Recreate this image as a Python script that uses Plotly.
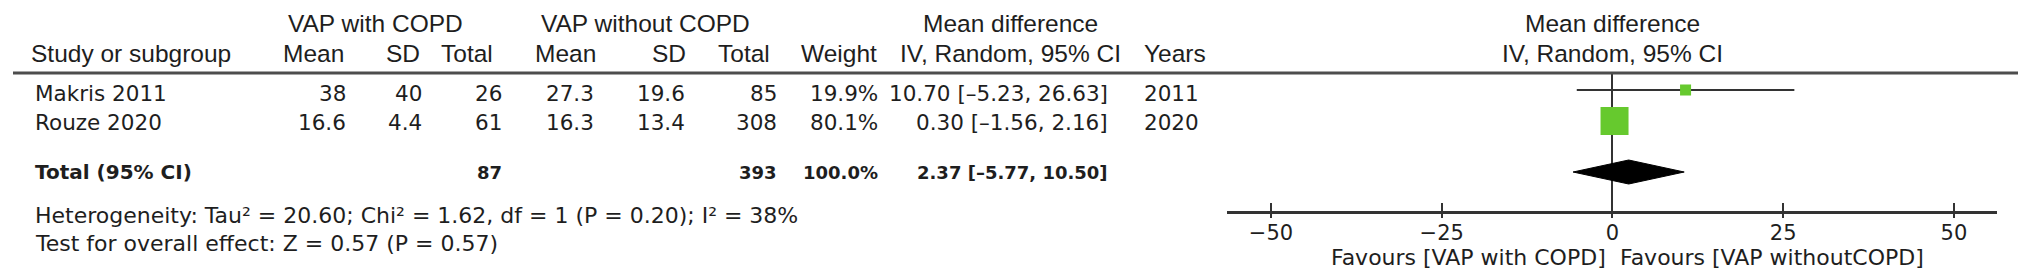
import plotly.graph_objects as go

# ---------------- data ----------------
studies = ["Makris 2011", "Rouze 2020"]
mean_copd = [38, 16.6]
sd_copd = [40, 4.4]
n_copd = [26, 61]
mean_nocopd = [27.3, 16.3]
sd_nocopd = [19.6, 13.4]
n_nocopd = [85, 308]
weights = [19.9, 80.1]
md = [10.70, 0.30]
ci_lo = [-5.23, -1.56]
ci_hi = [26.63, 2.16]
years = ["2011", "2020"]

total_label = "Total (95% CI)"
total_n_copd = 87
total_n_nocopd = 393
total_weight = 100.0
total_md = 2.37
total_lo = -5.77
total_hi = 10.50

heterogeneity = "Heterogeneity: Tau² = 20.60; Chi² = 1.62, df = 1 (P = 0.20); I² = 38%"
overall_effect = "Test for overall effect: Z = 0.57 (P = 0.57)"

group1 = "VAP with COPD"
group2 = "VAP without COPD"
col_headers = ["Mean", "SD", "Total", "Mean", "SD", "Total", "Weight"]
md_header = ["Mean difference", "IV, Random, 95% CI"]
x_ticks = [-50, -25, 0, 25, 50]
favours_left = "Favours [VAP with COPD]"
favours_right = "Favours [VAP withoutCOPD]"

# ---------------- layout (pixels) ----------------
W, H = 2032, 280
HEAD_FONT = "Liberation Sans, Arial, sans-serif"
BODY_FONT = "DejaVu Sans, Verdana, sans-serif"
TXT = "#1e1e1e"
GREEN = "#66c92e"
HS = 24.5   # header font size
BS = 21.5   # body font size
BB = 20     # bold total label size
BN = 18     # bold total numbers size

head1_y, head2_y = 23, 54
row_y = [90, 121]          # mark rows
row_text_y = [94, 122]     # text rows
total_y = 172
het_y, test_y = 215, 243
fav_y = 257
study_x = 33
data_right = [348, 424, 504, 596, 687, 779, 880]
head_right = [346, 422, 495, 598, 688, 772, 879]
ci_right = 1110
ci_center = 1010
years_left = 1142

plot_left, plot_right = 1227, 1997
axis_y, top_line_y = 211, 73
x_range = [-56.44, 56.30]


def px(x):
    return x / W


def py(y):
    return 1 - y / H


def en(v):
    return f"{v:.2f}".replace("-", "–")


ann = []


def txt(x, y, s, anchor="left", font=BODY_FONT, size=BS, bold=False):
    if bold:
        s = f"<b>{s}</b>"
    ann.append(dict(x=px(x), y=py(y), xref="paper", yref="paper", text=s,
                    showarrow=False, xanchor=anchor, yanchor="middle",
                    font=dict(family=font, size=size, color=TXT)))


# headers
txt(375, head1_y, group1, "center", HEAD_FONT, HS)
txt(645, head1_y, group2, "center", HEAD_FONT, HS)
txt(ci_center, head1_y, md_header[0], "center", HEAD_FONT, HS)
txt(study_x - 4, head2_y, "Study or subgroup", "left", HEAD_FONT, HS)
for xr, h in zip(head_right, col_headers):
    txt(xr, head2_y, h, "right", HEAD_FONT, HS)
txt(ci_center, head2_y, md_header[1], "center", HEAD_FONT, HS)
txt(years_left, head2_y, "Years", "left", HEAD_FONT, HS)

zero_px = plot_left + (0 - x_range[0]) / (x_range[1] - x_range[0]) * (plot_right - plot_left)
txt(zero_px, head1_y, md_header[0], "center", HEAD_FONT, HS)
txt(zero_px, head2_y, md_header[1], "center", HEAD_FONT, HS)

# study rows
for i, s in enumerate(studies):
    y = row_text_y[i]
    txt(study_x, y, s)
    vals = [f"{mean_copd[i]:g}", f"{sd_copd[i]:g}", f"{n_copd[i]}",
            f"{mean_nocopd[i]:g}", f"{sd_nocopd[i]:g}", f"{n_nocopd[i]}",
            f"{weights[i]:.1f}%"]
    for xr, v in zip(data_right, vals):
        txt(xr, y, v, "right")
    txt(ci_right, y, f"{md[i]:.2f} [{en(ci_lo[i])}, {en(ci_hi[i])}]", "right")
    txt(years_left, y, years[i])

# total row
txt(study_x, total_y, total_label, size=BB, bold=True)
txt(data_right[2], total_y, f"{total_n_copd}", "right", size=BN, bold=True)
txt(data_right[5], total_y, f"{total_n_nocopd}", "right", size=BN, bold=True)
txt(data_right[6], total_y, f"{total_weight:.1f}%", "right", size=BN, bold=True)
txt(ci_right, total_y, f"{total_md:.2f} [{en(total_lo)}, {en(total_hi)}]", "right",
    size=BN, bold=True)
txt(study_x, het_y, heterogeneity, size=22)
txt(study_x, test_y, overall_effect, size=22)

# favours labels
txt(zero_px - 4, fav_y, favours_left, "right", BODY_FONT, 22)
txt(zero_px + 6, fav_y, favours_right, "left", BODY_FONT, 22)

fig = go.Figure()

# CI lines
for i in range(len(studies)):
    fig.add_trace(go.Scatter(x=[ci_lo[i], ci_hi[i]], y=[row_y[i], row_y[i]],
                             mode="lines", line=dict(color="#333333", width=2),
                             hoverinfo="skip", showlegend=False))
# squares (weight-scaled)
sizes = [28 * (w / max(weights)) ** 0.67 for w in weights]
fig.add_trace(go.Scatter(x=md, y=row_y, mode="markers",
                         marker=dict(symbol="square", size=sizes, color=GREEN,
                                     opacity=1, line=dict(width=0)),
                         showlegend=False))
# diamond
dh = 12
fig.add_trace(go.Scatter(x=[total_lo, total_md, total_hi, total_md, total_lo],
                         y=[total_y, total_y - dh, total_y, total_y + dh, total_y],
                         mode="lines", fill="toself", fillcolor="black",
                         line=dict(color="black", width=1), showlegend=False))
# helper trace for inner ticks axis
fig.add_trace(go.Scatter(x=[0], y=[total_y], xaxis="x2", mode="markers",
                         marker=dict(opacity=0), showlegend=False, hoverinfo="skip"))

fig.update_layout(
    width=W, height=H, margin=dict(l=0, r=0, t=0, b=0),
    paper_bgcolor="white", plot_bgcolor="rgba(0,0,0,0)",
    annotations=ann,
    xaxis=dict(domain=[px(plot_left), px(plot_right)], range=x_range,
               tickvals=x_ticks, ticks="outside", ticklen=4, tickwidth=2,
               tickcolor="#333333", showline=True, linecolor="#333333",
               linewidth=2.5, showgrid=False, zeroline=True,
               zerolinecolor="#333333", zerolinewidth=2,
               tickfont=dict(family=BODY_FONT, size=21, color=TXT),
               ticklabelstandoff=-3, fixedrange=True),
    xaxis2=dict(domain=[px(plot_left), px(plot_right)], range=x_range,
                overlaying="x", anchor="y", side="bottom",
                tickvals=x_ticks, ticks="inside", ticklen=8, tickwidth=2,
                tickcolor="#333333", showticklabels=False, showline=False,
                showgrid=False, zeroline=False),
    yaxis=dict(domain=[py(axis_y), py(top_line_y)], range=[axis_y, top_line_y],
               visible=False, showgrid=False, zeroline=False, fixedrange=True),
    shapes=[dict(type="line", xref="paper", yref="paper",
                 x0=px(13), x1=px(2018), y0=py(top_line_y), y1=py(top_line_y),
                 line=dict(color="#4d4d4d", width=3))],
)

fig.write_html("out.html", config={"displayModeBar": False},
               post_script="document.body.style.margin='0';"
                           "document.body.style.overflow='hidden';")
